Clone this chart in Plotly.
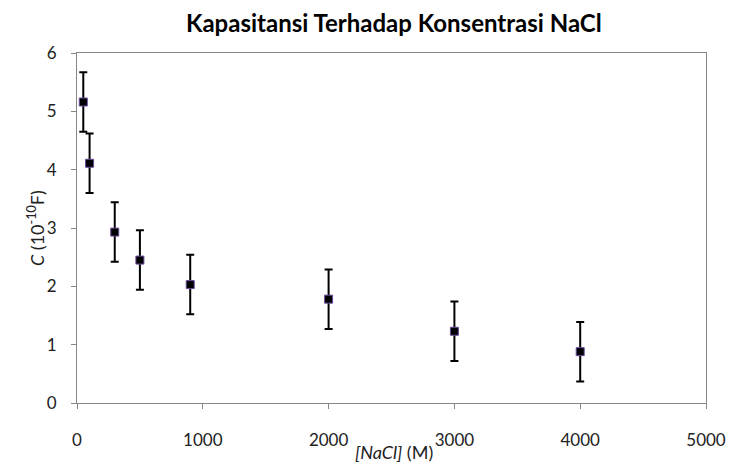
import plotly.graph_objects as go

nacl = [50, 100, 300, 500, 900, 2000, 3000, 4000]
capacitance = [5.16, 4.11, 2.93, 2.45, 2.03, 1.78, 1.23, 0.88]
error = [0.51, 0.51, 0.51, 0.51, 0.51, 0.51, 0.51, 0.51]

x_ticks = [0, 1000, 2000, 3000, 4000, 5000]
y_ticks = [0, 1, 2, 3, 4, 5, 6]

fig = go.Figure()
fig.add_trace(go.Scatter(
    x=nacl, y=capacitance, mode="markers",
    marker=dict(symbol="square", size=8, color="black",
                line=dict(color="#6a4a9a", width=1)),
    error_y=dict(type="data", array=error, visible=True,
                 color="black", thickness=2, width=4),
    showlegend=False,
))

axis_common = dict(
    showline=True, linecolor="#868686", linewidth=1, mirror=True,
    showgrid=False, zeroline=False, ticks="outside", ticklen=5,
    tickcolor="#868686", tickfont=dict(family="Lato", size=17, color="#222"),
)
fig.update_xaxes(range=[0, 5000], tickvals=x_ticks, ticklabelstandoff=17, **axis_common)
fig.update_yaxes(range=[0, 6], tickvals=y_ticks, ticklabelstandoff=11, **axis_common)

fig.update_layout(
    width=749, height=465,
    margin=dict(l=77, r=43, t=53, b=62),
    plot_bgcolor="white", paper_bgcolor="white",
    annotations=[
        dict(text="<b>Kapasitansi Terhadap Konsentrasi NaCl</b>", xref="paper", yref="paper",
             x=(394 - 77) / 629, y=(403.3 - 22) / 350.6, xanchor="center", yanchor="middle",
             showarrow=False, font=dict(family="Lato", size=24, color="black")),
        dict(text="<i>[NaCl]</i> (M)", xref="paper", yref="paper",
             x=(394 - 77) / 629, y=(403.3 - 452) / 350.6, xanchor="center", yanchor="middle",
             showarrow=False, font=dict(family="Lato", size=18, color="#222")),
        dict(text="<i>C</i> (10<sup>-10</sup>F)", xref="paper", yref="paper",
             x=(36 - 77) / 629, y=0.5, xanchor="center", yanchor="middle", textangle=-90,
             showarrow=False, font=dict(family="Lato", size=18, color="#222")),
    ],
)

fig.write_html("out.html", config={"displayModeBar": False},
               post_script="document.body.style.margin='0';")
